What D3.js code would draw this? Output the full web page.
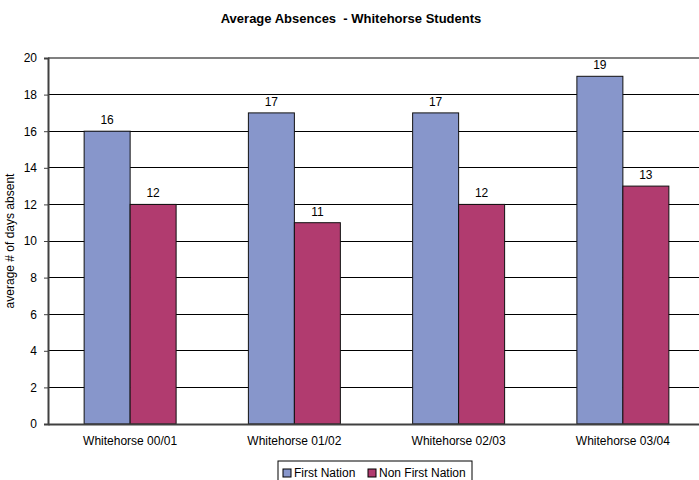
<!DOCTYPE html>
<html>
<head>
<meta charset="utf-8">
<script src="https://cdn.jsdelivr.net/npm/d3@7"></script>
<style>
  body { margin: 0; background: #fff; }
  svg { display: block; font-family: Arial, 'Liberation Sans', sans-serif; }
</style>
</head>
<body>
<div class="containers"></div>
<script>
const categories = ['Whitehorse 00/01', 'Whitehorse 01/02', 'Whitehorse 02/03', 'Whitehorse 03/04']
const seriesNames = ['First Nation', 'Non First Nation']
const firstNation = [16, 17, 17, 19]
const nonFirstNation = [12, 11, 12, 13]
const yTicks = [0, 2, 4, 6, 8, 10, 12, 14, 16, 18, 20]

const width = 699
const height = 480
const colors = ['#8796CB', '#B13B6F']
const margin = { left: 48, top: 58, right: -6, bottom: 56 }
const font = 'Arial, Liberation Sans, sans-serif'

const rows = categories.map((c, i) => ({ cat: c, values: [firstNation[i], nonFirstNation[i]] }))

const svg = d3.select('.containers')
  .append('svg')
  .attr('width', width)
  .attr('height', height)

const x = d3.scaleBand()
  .domain(categories)
  .range([margin.left, width - margin.right])
  .paddingInner(0.44)
  .paddingOuter(0.22)

const xs = d3.scaleBand()
  .domain(seriesNames)
  .range([0, x.bandwidth()])

const y = d3.scaleLinear()
  .domain([0, 20])
  .range([height - margin.bottom, margin.top])

// title (keeps the double space)
svg.append('text')
  .attr('x', 351)
  .attr('y', 23)
  .attr('text-anchor', 'middle')
  .attr('font-size', 13)
  .attr('font-weight', 'bold')
  .style('white-space', 'pre')
  .text('Average Absences  - Whitehorse Students')

// gridlines
svg.append('g')
  .selectAll('line')
  .data(yTicks.filter(d => d > 0 && d < 20))
  .join('line')
  .attr('x1', margin.left)
  .attr('x2', width)
  .attr('y1', d => y(d))
  .attr('y2', d => y(d))
  .attr('stroke', '#000')
  .attr('stroke-width', 1)
  .attr('shape-rendering', 'crispEdges')

// top border
svg.append('line')
  .attr('x1', margin.left).attr('x2', width)
  .attr('y1', y(20)).attr('y2', y(20))
  .attr('stroke', '#808080')
  .attr('stroke-width', 2)

// bars
const groups = svg.append('g')
  .selectAll('g')
  .data(rows)
  .join('g')
  .attr('transform', d => `translate(${x(d.cat)},0)`)

groups.selectAll('rect')
  .data(d => d.values.map((v, i) => ({ key: seriesNames[i], v, i })))
  .join('rect')
  .attr('x', d => xs(d.key))
  .attr('y', d => y(d.v))
  .attr('width', xs.bandwidth())
  .attr('height', d => y(0) - y(d.v))
  .attr('fill', d => colors[d.i])
  .attr('stroke', '#111')
  .attr('stroke-width', 1)

groups.selectAll('text')
  .data(d => d.values.map((v, i) => ({ key: seriesNames[i], v, i })))
  .join('text')
  .attr('x', d => xs(d.key) + xs.bandwidth() / 2)
  .attr('y', d => y(d.v) - 7)
  .attr('text-anchor', 'middle')
  .attr('font-size', 12)
  .attr('fill', '#000')
  .text(d => d.v)

// y axis
const yAxis = svg.append('g')
  .attr('transform', `translate(${margin.left},0)`)
  .call(d3.axisLeft(y).tickValues(yTicks).tickSize(4).tickPadding(7))
yAxis.select('.domain').attr('stroke', '#404040').attr('stroke-width', 2)
yAxis.selectAll('.tick line').attr('stroke', '#404040')
yAxis.selectAll('.tick text').attr('font-size', 12).attr('fill', '#000').attr('font-family', font)

// x axis
const xAxis = svg.append('g')
  .attr('transform', `translate(0,${y(0)})`)
  .call(d3.axisBottom(x).tickSize(0).tickPadding(12))
xAxis.select('.domain').attr('stroke', '#404040').attr('stroke-width', 2)
xAxis.selectAll('.tick text').attr('font-size', 12).attr('fill', '#000').attr('font-family', font)

// y label
svg.append('text')
  .attr('transform', `translate(14,${(y(0) + y(20)) / 2}) rotate(-90)`)
  .attr('text-anchor', 'middle')
  .attr('font-size', 12)
  .text('average # of days absent')

// legend
const legend = svg.append('g').attr('transform', 'translate(278,461)')
legend.append('rect')
  .attr('x', 0).attr('y', 0)
  .attr('width', 194).attr('height', 24)
  .attr('fill', '#fff')
  .attr('stroke', '#000')
  .attr('stroke-width', 1)
const items = [{ name: seriesNames[0], x: 5 }, { name: seriesNames[1], x: 90 }]
items.forEach((it, i) => {
  legend.append('rect')
    .attr('x', it.x).attr('y', 8)
    .attr('width', 8).attr('height', 8)
    .attr('fill', colors[i])
    .attr('stroke', '#000')
  legend.append('text')
    .attr('x', it.x + 11)
    .attr('y', 16)
    .attr('font-size', 12)
    .text(it.name)
})
</script>
</body>
</html>
